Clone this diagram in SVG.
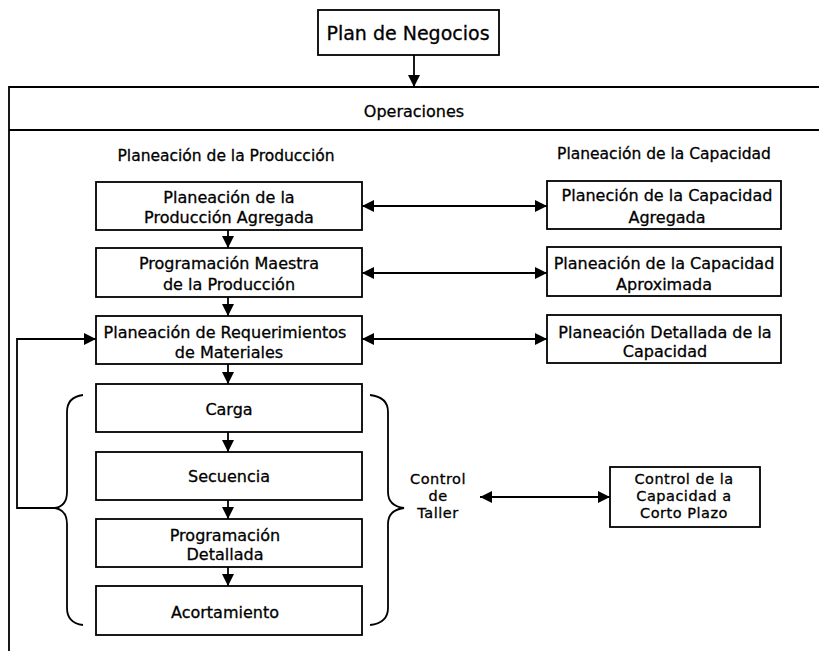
<svg xmlns="http://www.w3.org/2000/svg" width="819" height="651" viewBox="0 0 819 651">
<style>
.b{fill:#fff;stroke:#000;stroke-width:1.8}
.l{fill:none;stroke:#000;stroke-width:1.8}
text{font-family:"DejaVu Sans",Verdana,sans-serif;font-size:16px;fill:#000;stroke:#000;stroke-width:0.3;text-anchor:middle}
.h{font-size:15.5px}
.big{font-size:19px}
.s{font-size:14.5px;letter-spacing:0.5px}
</style>
<defs>
<marker id="ah" viewBox="0 0 12 12" refX="12" refY="6" markerWidth="12" markerHeight="12" markerUnits="userSpaceOnUse" orient="auto-start-reverse">
<path d="M0,0 L12,6 L0,12 z" fill="#000"/>
</marker>
</defs>
<rect width="819" height="651" fill="#fff"/>
<g id="frame">
<path class="l" d="M9,651 V87 H819 M9,130 H819"/>
<text x="414" y="116.5">Operaciones</text>
<text class="h" x="226" y="160.5">Planeación de la Producción</text>
<text class="h" x="664" y="158.5">Planeación de la Capacidad</text>
</g>
<g id="plan"><rect class="b" x="318" y="10" width="181" height="45"/><text class="big" x="408" y="39.5">Plan de Negocios</text></g>
<g id="ppa"><rect class="b" x="96" y="182" width="266" height="48"/><text x="229" y="202.5">Planeación de la</text><text x="229" y="222.5">Producción Agregada</text></g>
<g id="pmp"><rect class="b" x="96" y="248" width="266" height="49"/><text x="229" y="268.5">Programación Maestra</text><text x="229" y="289.5">de la Producción</text></g>
<g id="prm"><rect class="b" x="96" y="316" width="266" height="48"/><text x="225" y="337.5">Planeación de Requerimientos</text><text x="229" y="357.5">de Materiales</text></g>
<g id="carga"><rect class="b" x="96" y="384" width="266" height="48"/><text x="229" y="414.5">Carga</text></g>
<g id="sec"><rect class="b" x="96" y="452" width="266" height="48"/><text x="229" y="481.5">Secuencia</text></g>
<g id="pd"><rect class="b" x="96" y="519" width="266" height="48"/><text x="225" y="540.5">Programación</text><text x="225" y="559.5">Detallada</text></g>
<g id="acort"><rect class="b" x="96" y="586" width="266" height="49"/><text x="225" y="617.5">Acortamiento</text></g>
<g id="pca"><rect class="b" x="547" y="181" width="234" height="48"/><text x="667" y="200.5">Planeción de la Capacidad</text><text x="667" y="222.5">Agregada</text></g>
<g id="pcap"><rect class="b" x="547" y="247" width="234" height="49"/><text x="664" y="268.5">Planeación de la Capacidad</text><text x="664" y="289.5">Aproximada</text></g>
<g id="pdc"><rect class="b" x="547" y="315" width="234" height="48"/><text x="665" y="337.5">Planeación Detallada de la</text><text x="665" y="356.5">Capacidad</text></g>
<g id="taller"><text class="s" x="438" y="484">Control</text><text class="s" x="438" y="501">de</text><text class="s" x="438" y="518">Taller</text></g>
<g id="ccp"><rect class="b" x="610" y="467" width="150" height="60"/><text class="s" x="684" y="484">Control de la</text><text class="s" x="684" y="501">Capacidad a</text><text class="s" x="684" y="518">Corto Plazo</text></g>
<g id="connectors">
<path class="l" d="M414,55 V87" marker-end="url(#ah)"/>
<path class="l" d="M228,230 V248" marker-end="url(#ah)"/>
<path class="l" d="M228,297 V316" marker-end="url(#ah)"/>
<path class="l" d="M228,364 V384" marker-end="url(#ah)"/>
<path class="l" d="M228,432 V452" marker-end="url(#ah)"/>
<path class="l" d="M228,500 V519" marker-end="url(#ah)"/>
<path class="l" d="M228,567 V586" marker-end="url(#ah)"/>
<path class="l" d="M362,206 H547" marker-start="url(#ah)" marker-end="url(#ah)"/>
<path class="l" d="M362,273 H547" marker-start="url(#ah)" marker-end="url(#ah)"/>
<path class="l" d="M362,339 H547" marker-start="url(#ah)" marker-end="url(#ah)"/>
<path class="l" d="M480,497 H610" marker-start="url(#ah)" marker-end="url(#ah)"/>
<path class="l" d="M55,508 H17 V339 H96" marker-end="url(#ah)"/>
<path class="l" d="M83,395 Q67,397 67,412 V492 Q67,506 55,508 Q67,510 67,524 V608 Q67,623 83,625"/>
<path class="l" d="M370,395 Q388,397 388,412 V492 Q388,506 404,508 Q388,510 388,524 V608 Q388,623 370,625"/>
</g>
</svg>
